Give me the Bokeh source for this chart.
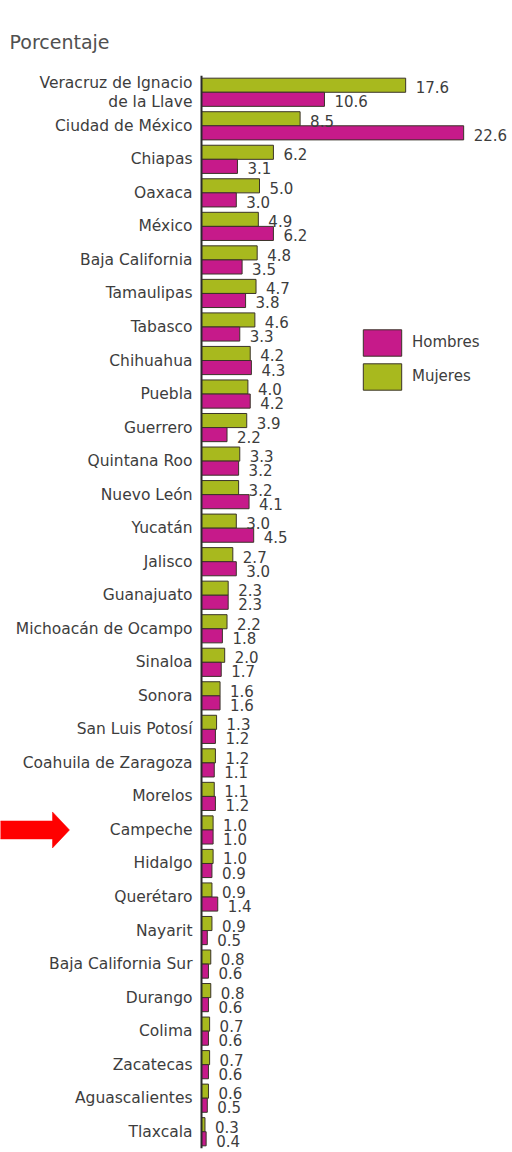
from bokeh.plotting import figure
from bokeh.models import ColumnDataSource, FactorRange, Range1d, Span, Legend, LegendItem, Title
from bokeh.transform import dodge
from bokeh.core.properties import value
from bokeh.embed import file_html
from bokeh.resources import INLINE

# ---------------- data ----------------
states = [
    "Veracruz de Ignacio de la Llave", "Ciudad de México", "Chiapas", "Oaxaca",
    "México", "Baja California", "Tamaulipas", "Tabasco", "Chihuahua", "Puebla",
    "Guerrero", "Quintana Roo", "Nuevo León", "Yucatán", "Jalisco", "Guanajuato",
    "Michoacán de Ocampo", "Sinaloa", "Sonora", "San Luis Potosí",
    "Coahuila de Zaragoza", "Morelos", "Campeche", "Hidalgo", "Querétaro",
    "Nayarit", "Baja California Sur", "Durango", "Colima", "Zacatecas",
    "Aguascalientes", "Tlaxcala",
]
state_labels = [
    "Veracruz de Ignacio\nde la Llave", "Ciudad de México", "Chiapas", "Oaxaca",
    "México", "Baja California", "Tamaulipas", "Tabasco", "Chihuahua", "Puebla",
    "Guerrero", "Quintana Roo", "Nuevo León", "Yucatán", "Jalisco", "Guanajuato",
    "Michoacán de Ocampo", "Sinaloa", "Sonora", "San Luis Potosí",
    "Coahuila de Zaragoza", "Morelos", "Campeche", "Hidalgo", "Querétaro",
    "Nayarit", "Baja California Sur", "Durango", "Colima", "Zacatecas",
    "Aguascalientes", "Tlaxcala",
]
mujeres = [17.6, 8.5, 6.2, 5.0, 4.9, 4.8, 4.7, 4.6, 4.2, 4.0, 3.9, 3.3, 3.2, 3.0,
           2.7, 2.3, 2.2, 2.0, 1.6, 1.3, 1.2, 1.1, 1.0, 1.0, 0.9, 0.9, 0.8, 0.8,
           0.7, 0.7, 0.6, 0.3]
hombres = [10.6, 22.6, 3.1, 3.0, 6.2, 3.5, 3.8, 3.3, 4.3, 4.2, 2.2, 3.2, 4.1, 4.5,
           3.0, 2.3, 1.8, 1.7, 1.6, 1.2, 1.1, 1.2, 1.0, 0.9, 1.4, 0.5, 0.6, 0.6,
           0.6, 0.6, 0.5, 0.4]
series_names = ["Hombres", "Mujeres"]
title_text = "Porcentaje"
highlight = "Campeche"

# ---------------- layout / style ----------------
W, H = 512, 1152
TOP = 75
BOTTOM = 4
AXIS_PX = 201
PX_PER_UNIT = 11.6
FONT_NAME = "DejaVu Sans"
FONT = value(FONT_NAME)
GREEN = "#A8B91E"
MAGENTA = "#C61A8A"
EDGE = "#3a3328"
TXT = "#3d3d3d"
BH = 0.42

n = len(states)
pitch = (H - TOP - BOTTOM) / n

def px_to_x(px):
    return (px - AXIS_PX) / PX_PER_UNIT

p = figure(
    width=W, height=H, output_backend="svg", toolbar_location=None,
    y_range=FactorRange(factors=list(reversed(states))),
    x_range=Range1d(px_to_x(0), px_to_x(W)),
    x_axis_location=None, y_axis_location=None,
    min_border_top=TOP, min_border_bottom=BOTTOM, min_border_left=0, min_border_right=0,
)
p.grid.visible = False
p.outline_line_color = None
p.background_fill_color = "white"

p.add_layout(Title(text=title_text, align="left", offset=9, standoff=46,
                   text_font=FONT_NAME, text_font_size="19px", text_font_style="normal",
                   text_color="#505050"), "above")

src = ColumnDataSource(dict(
    state=states, label=state_labels, mujeres=mujeres, hombres=hombres,
    mlab=[f"{v:.1f}" for v in mujeres], hlab=[f"{v:.1f}" for v in hombres],
))

r_m = p.hbar(y=dodge("state", BH / 2, range=p.y_range), left=0, right="mujeres",
             height=BH, source=src, fill_color=GREEN, line_color=EDGE, line_width=1)
r_h = p.hbar(y=dodge("state", -BH / 2, range=p.y_range), left=0, right="hombres",
             height=BH, source=src, fill_color=MAGENTA, line_color=EDGE, line_width=1)

p.text(x="mujeres", y=dodge("state", BH / 2, range=p.y_range), text="mlab", source=src,
       x_offset=10, y_offset=2, text_baseline="middle", text_font=FONT,
       text_font_size="15px", text_color=TXT)
p.text(x="hombres", y=dodge("state", -BH / 2, range=p.y_range), text="hlab", source=src,
       x_offset=10, y_offset=2, text_baseline="middle", text_font=FONT,
       text_font_size="15px", text_color=TXT)

p.text(x=0, y="state", text="label", source=src, x_offset=-9, text_align="right",
       text_baseline="middle", text_font=FONT, text_font_size="15.5px",
       text_color=TXT, text_line_height=1.05)

p.add_layout(Span(location=0, dimension="height", line_color="#2b2b2b", line_width=2))

# arrow pointing at the highlighted state
sh = 9 / pitch
hh = 18 / pitch
ax = [px_to_x(-2), px_to_x(52), px_to_x(52), px_to_x(69), px_to_x(52), px_to_x(52), px_to_x(-2)]
ay = [(highlight, sh), (highlight, sh), (highlight, hh), (highlight, 0.0),
      (highlight, -hh), (highlight, -sh), (highlight, -sh)]
arrow_src = ColumnDataSource(dict(x=ax, y=ay))
p.patch(x="x", y="y", source=arrow_src, fill_color="#FF0000", line_color="#FF0000", line_width=0.5)

frame_h = H - TOP - BOTTOM
legend_top = 329 - 3.3 - TOP
legend_h = 33 * 2 + 1
legend = Legend(
    items=[LegendItem(label=series_names[0], renderers=[r_h]),
           LegendItem(label=series_names[1], renderers=[r_m])],
    location=(358, frame_h - legend_top - legend_h), glyph_width=48, glyph_height=33, spacing=1,
    label_standoff=6, padding=0, margin=0,
    border_line_alpha=0, background_fill_alpha=0,
    label_text_font=FONT_NAME, label_text_font_size="15px", label_text_color=TXT,
)
p.add_layout(legend)

open("out.html", "w").write(file_html(p, INLINE))
